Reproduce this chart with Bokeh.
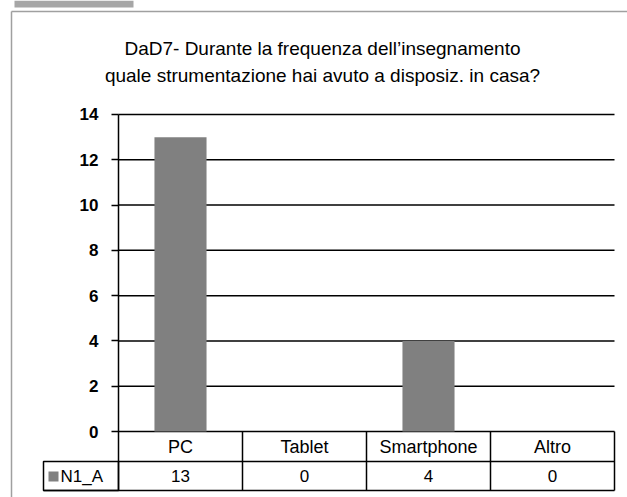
import numpy as np
from bokeh.plotting import figure
from bokeh.models import Range1d, FixedTicker
from bokeh.core.properties import value
from bokeh.embed import file_html
from bokeh.resources import INLINE

# ---- data ----
title_lines = ["DaD7- Durante la frequenza dell\u2019insegnamento",
               "quale strumentazione hai avuto a disposiz. in casa?"]
categories = ["PC", "Tablet", "Smartphone", "Altro"]
series_name = "N1_A"
counts = [13, 0, 4, 0]
y_ticks = [0, 2, 4, 6, 8, 10, 12, 14]

# ---- style / layout ----
FONT = "Liberation Sans"
W, H = 627, 497
BAR_COLOR = "#808080"
n = len(categories)
X0PX, COLPX = 118, 124        # canvas x of category 0 edge, px per category
Y0PX, UNITPX = 431, 22.643    # canvas y of value 0, px per value unit
ROW1 = 30 / UNITPX            # header row height
ROW2 = 59 / UNITPX            # bottom of table


def dx(cx):
    return (cx - X0PX) / COLPX


def dy(cy):
    return (Y0PX - cy) / UNITPX


p = figure(width=W, height=H, output_backend="svg", toolbar_location=None,
           x_range=Range1d(dx(0), dx(W)), y_range=Range1d(dy(H), dy(0)),
           min_border_left=0, min_border_right=0,
           min_border_top=0, min_border_bottom=0)
p.title.text = ""
p.outline_line_color = None
p.background_fill_color = "white"
p.border_fill_color = "white"
p.xaxis.visible = False
p.xgrid.visible = False
p.ygrid.visible = False

# value axis drawn at the left edge of the plot area
p.yaxis.fixed_location = 0
p.yaxis.ticker = FixedTicker(ticks=y_ticks)
p.yaxis.bounds = (-ROW2, max(y_ticks))
p.yaxis.axis_line_color = "black"
p.yaxis.axis_line_width = 1.5
p.yaxis.major_tick_line_color = "black"
p.yaxis.major_tick_line_width = 1.5
p.yaxis.major_tick_out = 7
p.yaxis.major_tick_in = 0
p.yaxis.minor_tick_line_color = None
p.yaxis.major_label_text_font = FONT
p.yaxis.major_label_text_font_size = "17px"
p.yaxis.major_label_text_font_style = "bold"
p.yaxis.major_label_text_color = "black"
p.yaxis.major_label_standoff = 13

# decorative frame and tab
p.segment(x0=[dx(11), dx(11)], y0=[dy(11), dy(11)],
          x1=[dx(W + 5), dx(11)], y1=[dy(11), dy(H + 5)],
          line_color="#a0a0a0", line_width=1.5)
p.quad(left=[dx(14)], right=[dx(133)], top=[dy(0)], bottom=[dy(7)],
       fill_color="#a6a6a6", line_color=None)

# horizontal grid lines
p.segment(x0=[0] * len(y_ticks), x1=[n] * len(y_ticks), y0=y_ticks, y1=y_ticks,
          line_color="black", line_width=1.5)

# bars
xc = np.arange(n) + 0.5
p.vbar(x=xc, top=counts, width=0.42, fill_color=BAR_COLOR, line_color=None)

# data table below the axis
bounds = np.arange(n + 1)
x0 = list(bounds[1:]) + [0, dx(43)]
x1 = list(bounds[1:]) + [n, n]
y0 = [0] * n + [-ROW1, -ROW2]
y1 = [-ROW2] * n + [-ROW1, -ROW2]
p.segment(x0=x0, y0=y0, x1=x1, y1=y1, line_color="black", line_width=1.5)
p.text(x=xc, y=[-ROW1 / 2] * n, text=categories, text_font=value(FONT),
       text_font_size="18px", text_align="center", text_baseline="middle",
       text_color="black")
p.text(x=xc, y=[-(ROW1 + ROW2) / 2] * n, text=[str(c) for c in counts],
       text_font=value(FONT), text_font_size="17px", text_align="center",
       text_baseline="middle", text_color="black")

# legend cell of the table
p.quad(left=[dx(43)], right=[0], top=[-ROW1], bottom=[-ROW2],
       fill_color=None, line_color="black", line_width=1.5)
p.quad(left=[dx(48)], right=[dx(58)], top=[dy(471)], bottom=[dy(481)],
       fill_color=BAR_COLOR, line_color=None)
p.text(x=[dx(60)], y=[-(ROW1 + ROW2) / 2], text=[series_name],
       text_font=value(FONT), text_font_size="17px", text_align="left",
       text_baseline="middle", text_color="black")

# title
p.text(x=[dx(322)] * len(title_lines),
       y=[dy(48 + 27 * i) for i in range(len(title_lines))],
       text=title_lines, text_font=value(FONT), text_font_size="19px",
       text_align="center", text_baseline="middle", text_color="black")

html = file_html(p, INLINE)
html = html.replace("<body>", '<body style="margin:0;overflow:hidden">', 1)
open("out.html", "w").write(html)
